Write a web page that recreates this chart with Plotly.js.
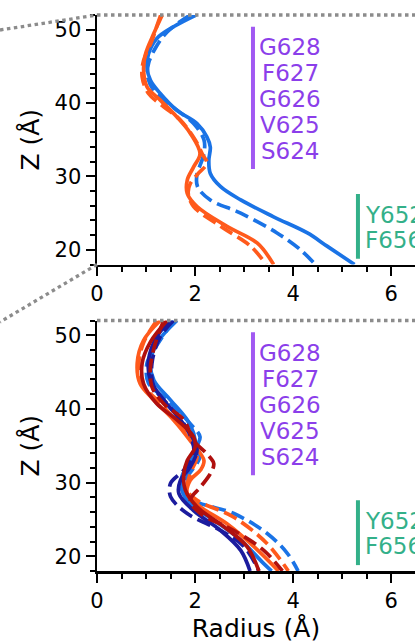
<!DOCTYPE html>
<html>
<head>
<meta charset="utf-8">
<script src="https://cdn.plot.ly/plotly-3.0.1.min.js"></script>
<style>
html,body{margin:0;padding:0;background:#fff;overflow:hidden;}
#chart{width:415px;height:643px;}
</style>
</head>
<body>
<div id="chart"></div>
<script>
// ---------- Data ----------
// Top panel
const topBlueSolidZ = [52, 50.4, 48.8, 46.7, 44.9, 43.1, 41.3, 39.0, 37.2, 35.4, 34.0, 32.2, 30.4, 28.6, 26.8, 24.5, 22.3, 20.5, 18];
const topBlueSolidR = [2.02, 1.56, 1.22, 1.05, 1.02, 1.09, 1.29, 1.63, 2.04, 2.24, 2.31, 2.28, 2.31, 2.52, 2.93, 3.6, 4.29, 4.69, 5.25];
const topBlueDashZ = [52, 49.7, 47.6, 45.4, 43.6, 41.3, 39.5, 37.2, 35.0, 33.1, 31.5, 30.4, 28.6, 26.8, 25.0, 22.3, 20.0, 18];
const topBlueDashR = [1.9, 1.43, 1.2, 1.05, 1.03, 1.2, 1.54, 1.97, 2.18, 2.18, 2.1, 2.04, 2.05, 2.31, 2.93, 3.67, 4.15, 4.45];
const topOrangeSolidZ = [52, 49.5, 46.7, 44.5, 42.2, 40.4, 38.1, 35.9, 33.1, 31.3, 29.5, 27.7, 25.9, 23.2, 20.9, 18];
const topOrangeSolidR = [1.33, 1.16, 0.99, 0.95, 1.02, 1.29, 1.63, 1.9, 2.1, 1.97, 1.84, 1.84, 2.04, 2.65, 3.27, 3.6];
const topOrangeDashZ = [52, 50.5, 48.5, 45.8, 43.6, 41.3, 39.5, 37.7, 35.0, 33.0, 31.8, 30.3, 29.0, 27.7, 25.9, 23.2, 20.5, 18];
const topOrangeDashR = [1.3, 1.22, 1.12, 0.95, 0.92, 1.05, 1.36, 1.7, 2.0, 2.15, 2.24, 2.05, 1.9, 1.86, 1.97, 2.52, 3.13, 3.45];

// Bottom panel
const botBlueSolidZ = [52, 48.9, 46.2, 43.9, 41.2, 38.5, 36.7, 34.8, 33.0, 30.8, 29.0, 27.1, 24.9, 22.2, 19.0, 18];
const botBlueSolidR = [1.63, 1.22, 1.09, 1.16, 1.5, 1.84, 1.97, 2.0, 1.9, 1.73, 1.73, 1.9, 2.38, 2.93, 3.4, 3.56];
const botBlueDashZ = [52, 48, 46.2, 43.5, 41.2, 38, 36.2, 34.8, 33.5, 30.8, 29.4, 27.6, 25.8, 23.1, 20.4, 18];
const botBlueDashR = [1.56, 1.16, 1.02, 1.05, 1.43, 1.9, 2.1, 2.04, 2.1, 1.84, 1.73, 1.97, 2.79, 3.47, 3.88, 4.1];
const botOrangeSolidZ = [52, 49.3, 46.2, 43.4, 41.2, 38.5, 35.7, 33, 31.7, 30.3, 28.5, 26.7, 24.4, 21.3, 18];
const botOrangeSolidR = [1.29, 0.95, 0.82, 0.88, 1.16, 1.56, 1.9, 2.18, 2.11, 1.9, 1.84, 2.11, 2.65, 3.2, 3.7];
const botOrangeDashZ = [52, 49, 45.8, 43.1, 40.8, 37.6, 35.3, 33.5, 31.2, 29, 27.6, 25.3, 21.7, 18];
const botOrangeDashR = [1.22, 0.95, 0.85, 0.95, 1.29, 1.7, 1.97, 2.04, 1.9, 1.84, 2.04, 2.79, 3.47, 3.9];
const botNavySolidZ = [52, 49.8, 46.6, 43.9, 41.2, 38.5, 36.2, 34.4, 32.1, 30.3, 28.5, 26.2, 23.5, 20.8, 18];
const botNavySolidR = [1.5, 1.22, 1.05, 1.09, 1.36, 1.7, 1.94, 2.04, 1.9, 1.7, 1.67, 1.97, 2.52, 2.93, 3.12];
const botNavyDashZ = [52, 49.8, 46.2, 43.0, 40.7, 38.0, 35.7, 33.9, 31.7, 29.9, 28.1, 25.8, 23.5, 21.3, 18];
const botNavyDashR = [1.56, 1.29, 1.12, 1.16, 1.43, 1.77, 1.94, 1.97, 1.77, 1.5, 1.5, 1.84, 2.52, 3.0, 3.3];
const botRedSolidZ = [52, 49.1, 46.2, 43.4, 40.7, 38.5, 36.2, 34.8, 33, 31.2, 29, 26.7, 24, 21.3, 18];
const botRedSolidR = [1.43, 1.09, 0.92, 0.95, 1.22, 1.63, 1.97, 2.0, 1.84, 1.77, 1.8, 2.04, 2.59, 3.06, 3.3];
const botRedDashZ = [52, 48.9, 45.7, 43, 40.7, 38.5, 35.7, 33.9, 32.6, 31.2, 29.4, 27.6, 25.8, 23.5, 20.8, 18];
const botRedDashR = [1.36, 1.19, 1.09, 1.12, 1.36, 1.77, 1.97, 2.24, 2.38, 2.31, 2.11, 1.9, 2.11, 2.79, 3.4, 3.78];

// Residue labels
const upperResidues = ['G628', 'F627', 'G626', 'V625', 'S624'];
const lowerResidues = ['Y652', 'F656'];
const xTitle = 'Radius (Å)';
const yTitle = 'Z (Å)';

// ---------- Styles ----------
const BLUE = '#1a73e6', ORANGE = '#ff5a1c', NAVY = '#1c1c9e', RED = '#b0100e';
const PURPLE_TXT = '#8b3eea', PURPLE_BAR = '#a159f2', GREEN = '#33b089';
const FONT = 'DejaVu Sans, sans-serif';
const LW = 3.7, DASH = '14px,6px';

function tr(r, z, color, dashed, xa, ya) {
  return {
    x: r, y: z, xaxis: xa, yaxis: ya, mode: 'lines', type: 'scatter',
    line: {color: color, width: LW, dash: dashed ? DASH : 'solid', shape: 'spline', smoothing: 1},
    hoverinfo: 'skip'
  };
}

const data = [
  tr(topBlueSolidR, topBlueSolidZ, BLUE, false, 'x', 'y'),
  tr(topBlueDashR, topBlueDashZ, BLUE, true, 'x', 'y'),
  tr(topOrangeSolidR, topOrangeSolidZ, ORANGE, false, 'x', 'y'),
  tr(topOrangeDashR, topOrangeDashZ, ORANGE, true, 'x', 'y'),
  tr(botBlueSolidR, botBlueSolidZ, BLUE, false, 'x2', 'y2'),
  tr(botBlueDashR, botBlueDashZ, BLUE, true, 'x2', 'y2'),
  tr(botOrangeSolidR, botOrangeSolidZ, ORANGE, false, 'x2', 'y2'),
  tr(botOrangeDashR, botOrangeDashZ, ORANGE, true, 'x2', 'y2'),
  tr(botNavySolidR, botNavySolidZ, NAVY, false, 'x2', 'y2'),
  tr(botNavyDashR, botNavyDashZ, NAVY, true, 'x2', 'y2'),
  tr(botRedSolidR, botRedSolidZ, RED, false, 'x2', 'y2'),
  tr(botRedDashR, botRedDashZ, RED, true, 'x2', 'y2')
];

// ---------- Layout ----------
const W = 415, H = 643;
const M = {l: 97, r: 0, t: 15, b: 72};
const plotH = H - M.t - M.b;
const topDomain = [(H - M.b - 264.5 ) / plotH, 1];
const botDomain = [0, (H - M.b - 320.5) / plotH];
const XMAX = (W - M.l) / 49.05;

function xax(anchor, withTitle) {
  const a = {
    anchor: anchor, domain: [0, 1], range: [0, XMAX], dtick: 2, tick0: 0,
    ticks: 'outside', ticklen: 9, tickwidth: 2, tickcolor: '#000',
    showline: true, linewidth: 2.5, linecolor: '#000', showgrid: false, zeroline: false,
    tickfont: {family: FONT, size: 21, color: '#000'},
    minor: {dtick: 0.5, tick0: 0, ticks: 'outside', ticklen: 5, tickwidth: 2, tickcolor: '#000', showgrid: false},
    automargin: false, fixedrange: true
  };
  if (withTitle) a.title = {text: xTitle, font: {family: FONT, size: 25, color: '#000'}, standoff: 8};
  return a;
}
function yax(anchor, domain) {
  return {
    anchor: anchor, domain: domain, range: [18, 52], dtick: 10, tick0: 0,
    ticks: 'outside', ticklen: 9, tickwidth: 2, tickcolor: '#000',
    showline: true, linewidth: 2.5, linecolor: '#000', showgrid: false, zeroline: false,
    tickfont: {family: FONT, size: 21, color: '#000'},
    minor: {dtick: 2, tick0: 0, ticks: 'outside', ticklen: 5, tickwidth: 2, tickcolor: '#000', showgrid: false},
    title: {text: yTitle, font: {family: FONT, size: 25, color: '#000'}, standoff: 8},
    automargin: false, fixedrange: true
  };
}

// label placement (layout constants)
const PURPLE_X = 3.94, PURPLE_TOP = 47.6, PURPLE_STEP = 3.54;
const BAR_P_X = 3.18, BAR_P_Z = [31.0, 50.4];
const GREEN_X = 5.43, GREEN_TOP = 24.8, GREEN_STEP = 3.4;
const BAR_G_X = 5.32, BAR_G_Z = [18.8, 27.6];

const annotations = [];
const shapes = [];
[['x', 'y'], ['x2', 'y2']].forEach(([xa, ya]) => {
  upperResidues.forEach((t, i) => annotations.push({
    xref: xa, yref: ya, x: PURPLE_X, y: PURPLE_TOP - i * PURPLE_STEP, text: t, showarrow: false,
    xanchor: 'center', yanchor: 'middle', font: {family: FONT, size: 23, color: PURPLE_TXT}
  }));
  lowerResidues.forEach((t, i) => annotations.push({
    xref: xa, yref: ya, x: GREEN_X, y: GREEN_TOP - i * GREEN_STEP, text: t, showarrow: false,
    xanchor: 'left', yanchor: 'middle', font: {family: FONT, size: 23, color: GREEN}
  }));
  shapes.push({type: 'line', xref: xa, yref: ya, x0: BAR_P_X, x1: BAR_P_X, y0: BAR_P_Z[0], y1: BAR_P_Z[1],
    line: {color: PURPLE_BAR, width: 4}});
  shapes.push({type: 'line', xref: xa, yref: ya, x0: BAR_G_X, x1: BAR_G_X, y0: BAR_G_Z[0], y1: BAR_G_Z[1],
    line: {color: GREEN, width: 4}});
});

// dotted connector lines (paper coordinates)
const pxX = px => (px - M.l) / (W - M.l);
const pxY = py => (H - M.b - py) / plotH;
const DOT = {color: '#8c8c8c', width: 3.3, dash: '3.5px,3.5px'};
shapes.push({type: 'line', xref: 'paper', yref: 'paper', x0: 0, x1: 1, y0: topDomain[1], y1: topDomain[1], line: DOT});
shapes.push({type: 'line', xref: 'paper', yref: 'paper', x0: pxX(0), x1: 0, y0: pxY(30), y1: topDomain[1], line: DOT});
shapes.push({type: 'line', xref: 'paper', yref: 'paper', x0: 0, x1: pxX(0), y0: topDomain[0], y1: pxY(322), line: DOT});
shapes.push({type: 'line', xref: 'paper', yref: 'paper', x0: 0, x1: 1, y0: botDomain[1], y1: botDomain[1], line: DOT});

const layout = {
  width: W, height: H, margin: M,
  paper_bgcolor: '#fff', plot_bgcolor: '#fff', showlegend: false,
  font: {family: FONT, color: '#000'},
  xaxis: xax('y', false), yaxis: yax('x', topDomain),
  xaxis2: xax('y2', true), yaxis2: yax('x2', botDomain),
  annotations: annotations, shapes: shapes
};

Plotly.newPlot('chart', data, layout, {staticPlot: true, displayModeBar: false});
</script>
</body>
</html>
